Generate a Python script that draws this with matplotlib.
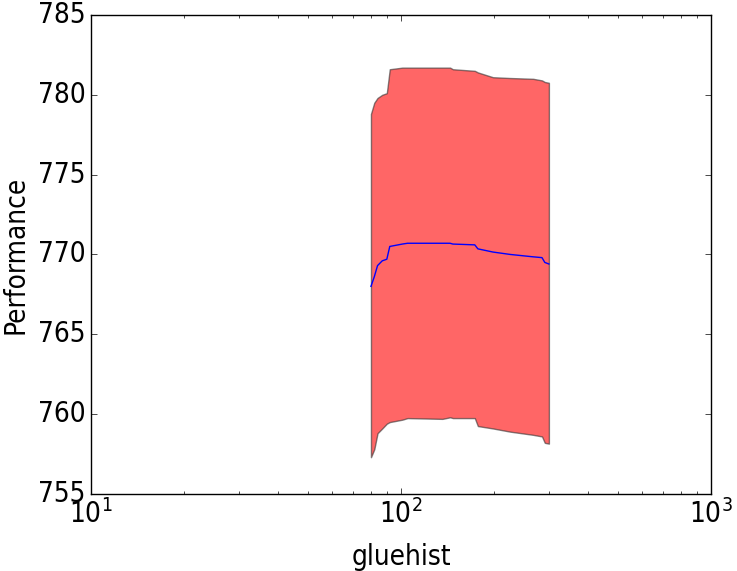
import matplotlib
matplotlib.use('Agg')
import matplotlib.pyplot as plt
import numpy as np

plt.style.use('classic')
plt.rcParams['font.family'] = ['DejaVu Sans']
plt.rcParams['font.stretch'] = 'condensed'
plt.rcParams['mathtext.fontset'] = 'custom'
plt.rcParams['mathtext.rm'] = 'DejaVu Sans:stretch=condensed'

# values
gluehist = [80, 82, 84, 87, 90, 92, 101, 105, 136, 144, 147, 173, 177, 198, 225, 267, 285, 291, 300]
perf_upper = [778.8, 779.5, 779.8, 780.0, 780.1, 781.6, 781.7, 781.7, 781.7, 781.7, 781.6,
              781.5, 781.4, 781.1, 781.05, 781.0, 780.9, 780.8, 780.75]
perf_mean = [768.0, 768.6, 769.3, 769.6, 769.7, 770.5, 770.65, 770.7, 770.7, 770.7, 770.65,
             770.6, 770.35, 770.15, 770.0, 769.85, 769.8, 769.5, 769.4]
perf_lower = [757.3, 757.8, 758.8, 759.1, 759.4, 759.5, 759.65, 759.75, 759.7, 759.8, 759.75,
              759.75, 759.25, 759.1, 758.9, 758.7, 758.6, 758.2, 758.15]

fig = plt.figure(figsize=(7.37, 5.71), dpi=100, facecolor='white')
ax = fig.add_axes([0.1235, 0.135, 0.8412, 0.8388])

ax.fill_between(gluehist, perf_lower, perf_upper, facecolor='red', alpha=0.6,
                edgecolor='#333333', linewidth=1)
ax.plot(gluehist, perf_mean, color='blue', linewidth=1)

ax.set_xscale('log')
ax.set_xlim(10, 1000)
ax.set_ylim(755, 785)
ax.set_xlabel('gluehist', fontsize=20, labelpad=10)
ax.set_ylabel('Performance', fontsize=20, labelpad=6)
ax.tick_params(labelsize=20)

fig.savefig('out.png', dpi=100, facecolor='white')
